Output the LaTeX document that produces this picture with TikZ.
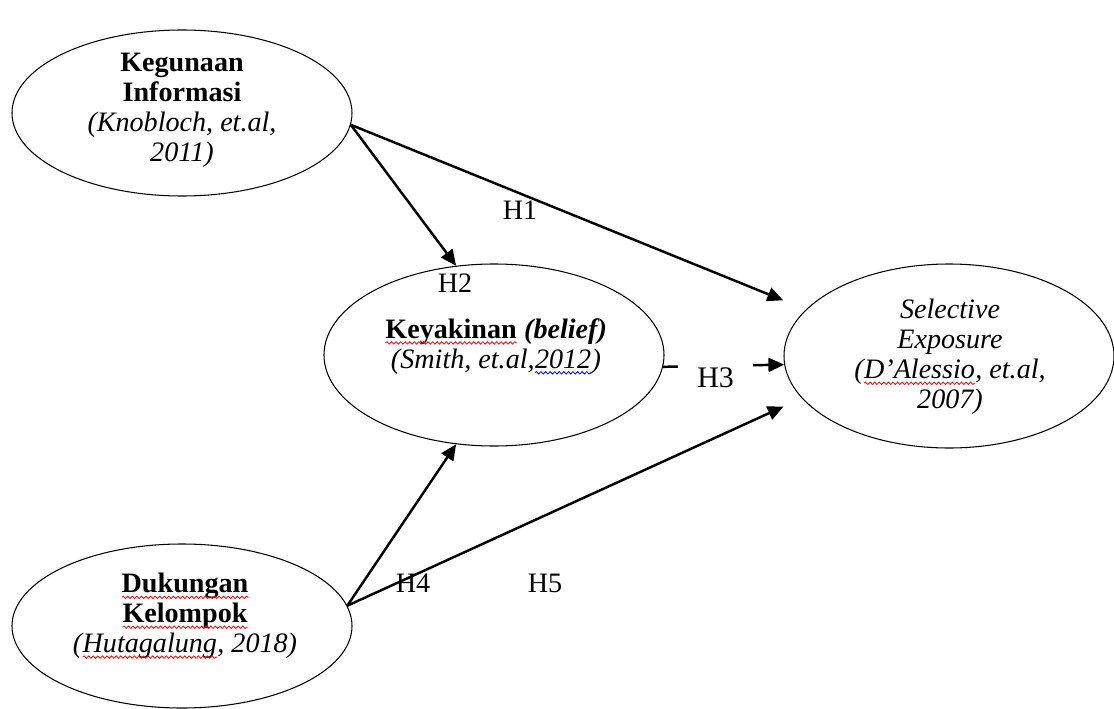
\documentclass[tikz,border=0pt]{standalone}
\usepackage{fontspec}
\setmainfont{Liberation Serif}
\usetikzlibrary{shapes.geometric}
\usetikzlibrary{arrows.meta}
\usetikzlibrary{decorations.pathmorphing}

\newcommand{\wavy}[2]{\tikz[baseline=(w.base)]{\node[inner sep=0pt,outer sep=0pt] (w) {#2}; \draw[#1,line width=0.45pt,decorate,decoration={snake,amplitude=0.7pt,segment length=2.6pt}] ([yshift=-2.6pt]w.base west) -- ([yshift=-2.6pt]w.base east);}}

\begin{document}
\begin{tikzpicture}[
  var/.style={draw,ellipse,line width=0.6pt,inner sep=0pt},
  txt/.style={align=center,font=\fontsize{16}{17}\selectfont},
  hyp/.style={line width=1.4pt,-{Triangle[length=9pt,width=8pt]}},
  lab/.style={font=\fontsize{16}{17}\selectfont}]
 \useasboundingbox (0,0) rectangle (22.28,14.16);

 \node[var,minimum width=6.8cm,minimum height=3.32cm] (guna) at (3.64,11.9) {};
 \node[var,minimum width=6.8cm,minimum height=3.64cm] (yakin) at (9.88,7.06) {};
 \node[var,minimum width=6.6cm,minimum height=3.68cm] (selektif) at (18.98,7.04) {};
 \node[var,minimum width=6.8cm,minimum height=3.28cm] (dukung) at (3.64,1.64) {};

 \node[txt] (gunatxt) at (3.64,11.95) {\textbf{Kegunaan}\\\textbf{Informasi}\\\textit{(Knobloch, et.al,}\\\textit{2011)}};
 \node[txt] (yakintxt) at (9.92,7.23) {\textbf{\wavy{red}{Keyakinan} \textit{(belief)}}\\\textit{(Smith, et.al,\wavy{blue}{2012})}};
 \node[txt] (selektiftxt) at (19.0,7.02) {\textit{Selective}\\\textit{Exposure}\\\textit{(\wavy{red}{D’Alessio}, et.al,}\\\textit{2007)}};
 \node[txt] (dukungtxt) at (3.7,1.84) {\textbf{\wavy{red}{Dukungan}}\\\textbf{\wavy{red}{Kelompok}}\\\textit{(\wavy{red}{Hutagalung}, 2018)}};

 \draw[hyp,shorten >=0.49cm] (guna.-4) -- (selektif.162);
 \draw[hyp] (guna.-4) -- (yakin.113);
 \draw[hyp] (yakin.-4) -- node[fill=white,minimum width=1.5cm,minimum height=0.8cm,xshift=-0.16cm,yshift=-0.24cm,font=\fontsize{17}{18}\selectfont] (higa) {H3} (selektif.183);
 \draw[hyp] (dukung.7) -- (yakin.247);
 \draw[hyp,shorten >=0.4cm] (dukung.7) -- (selektif.196);

 \node[lab] (satu) at (10.4,9.96) {H1};
 \node[lab] (dua) at (9.1,8.5) {H2};
 \node[lab] (empat) at (8.26,2.5) {H4};
 \node[lab] (lima) at (10.9,2.5) {H5};
\end{tikzpicture}
\end{document}
